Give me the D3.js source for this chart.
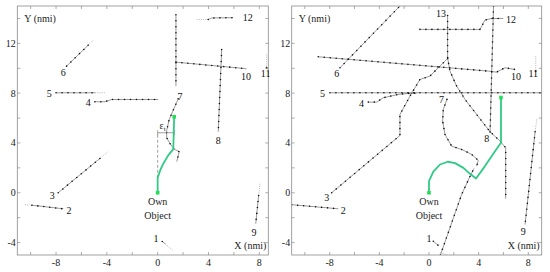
<!DOCTYPE html>
<html>
<head>
<meta charset="utf-8">
<script src="https://cdn.jsdelivr.net/npm/d3@7"></script>
<style>
  body { margin: 0; background: #fff; }
  svg { display: block; font-family: "Liberation Serif", "DejaVu Serif", serif; }
</style>
</head>
<body>
<svg id="chart" width="550" height="272"></svg>
<script>
// axis ticks (nmi)
const xTicks = [-10, -8, -6, -4, -2, 0, 2, 4, 6, 8];
const xTickLabels = [-8, -4, 0, 4, 8];
const yTicks = [-4, -2, 0, 2, 4, 6, 8, 10, 12, 14];
const yTickLabels = [-4, 0, 4, 8, 12];

// left panel: tracked objects (solid part with plots, faint part = older history)
const leftSolid = [
  [[0.36, -3.91], [0.62, -4.12]],
  [[-9.9, -1.0], [-7.43, -1.29]],
  [[-7.83, 0], [-4.54, 2.76]],
  [[-4.94, 7.31], [-4.15, 7.31], [-3.63, 7.49], [0.05, 7.49]],
  [[-8.0, 8.03], [-4.93, 8.03]],
  [[-7.17, 10.17], [-5.46, 11.86]],
  [[1.62, 7.55], [0.91, 5.89], [0.71, 5.0], [0.71, 4.42], [0.97, 3.95], [1.3, 3.5], [1.7, 3.3], [1.5, 2.5]],
  [[5.04, 11.5], [4.77, 4.9]],
  [[7.95, -0.22], [7.72, -2.49]],
  [[1.44, 10.49], [7.0, 9.96]],
  [[3.98, 13.92], [4.25, 14.04], [5.93, 14.06]],
  [[1.44, 14.3], [1.44, 8.56]]
];
const leftFaint = [
  [[0.62, -4.12], [1.18, -4.63]],
  [[-10.45, -0.96], [-9.9, -1.0]],
  [[-4.54, 2.76], [-3.89, 3.32]],
  [[-4.93, 8.03], [-4.15, 8.03]],
  [[-5.46, 11.86], [-5.07, 12.26]],
  [[8.06, 0.72], [7.95, -0.22]],
  [[8.58, 11.1], [8.58, 10.04]],
  [[3.07, 13.92], [3.98, 13.92]]
];
const leftLabels = [
  ["1", -0.13, -3.7], ["2", -6.98, -1.42], ["3", -8.3, -0.2], ["4", -5.46, 7.23],
  ["5", -8.54, 8.0], ["6", -7.43, 9.69], ["7", 1.76, 7.76], ["8", 4.77, 4.2],
  ["9", 7.58, -3.16], ["10", 6.95, 9.37], ["11", 8.5, 9.6], ["12", 7.1, 14.05]
];
const leftOwn = [[0, 0], [0, 1.2], [0.2, 1.8], [0.44, 2.33], [0.83, 3.0], [1.23, 3.5], [1.3, 6.1]];
const epsY = 4.82;
const epsX = 1.31;

// right panel
const rightSolid = [
  [[0.35, -3.9], [0.75, -4.23]],
  [[0.92, -5.0], [2.63, -0.14], [3.3, 1.3], [3.62, 1.95]],
  [[-11.06, -0.96], [-7.3, -1.29]],
  [[-7.84, 0], [-2.34, 4.6], [-2.34, 6.29], [-1.53, 7.76], [-0.73, 9.1], [0.08, 9.37], [0.75, 10.04], [1.56, 10.84]],
  [[-4.89, 7.28], [-4.22, 7.28], [-3.68, 7.63], [-2.47, 7.9], [-1.66, 7.98], [-1.0, 8.0]],
  [[-7.98, 8.03], [9.08, 8.03]],
  [[-7.17, 10.04], [-2.34, 15.0]],
  [[1.45, 7.5], [1.15, 6.69], [1.1, 5.75], [1.29, 4.68], [1.83, 3.74], [2.63, 3.48], [3.44, 3.08], [3.97, 2.6], [3.84, 2.14]],
  [[5.2, 15.0], [4.92, 4.82]],
  [[8.55, 4.9], [7.74, -2.55]],
  [[-8.92, 10.92], [4.78, 9.77], [5.45, 9.69], [6.12, 10.04], [6.93, 9.9]],
  [[-0.73, 13.12], [4.11, 13.12], [4.51, 13.87], [5.05, 14.0], [5.99, 14.0]],
  [[1.5, 14.24], [1.5, 10.84], [1.69, 9.77], [2.23, 8.56], [2.9, 7.5], [3.84, 6.29], [4.92, 4.9], [5.72, 4.15], [6.18, 3.61], [6.18, -0.48]]
];
const rightFaint = [
  [[0.92, -4.8], [1.45, -5.0]],
  [[8.68, 5.89], [8.55, 4.9]],
  [[8.6, 10.97], [8.6, 9.77]]
];
const rightLabels = [
  ["1", 0.0, -3.7], ["2", -6.9, -1.42], ["3", -8.24, -0.35], ["4", -5.44, 7.2],
  ["5", -8.57, 7.95], ["6", -7.44, 9.58], ["7", 1.0, 7.45], ["8", 4.65, 4.36],
  ["9", 7.6, -3.08], ["10", 7.0, 9.3], ["11", 8.4, 9.6], ["12", 6.6, 13.9], ["13", 0.97, 14.4]
];
const rightOwn = [[0, 0], [0, 0.93], [0.35, 1.69], [0.89, 2.27], [1.51, 2.49], [2.1, 2.38], [2.77, 2.0],
  [3.3, 1.52], [3.79, 1.15], [4.51, 2.14], [5.32, 3.34], [5.8, 4.01], [5.8, 7.65]];

const green = "#2fcb86";
const svg = d3.select("#chart");

function drawPanel(px0, px1, xDom, solid, faint, labels, own, withEps) {
  const x = d3.scaleLinear().domain(xDom).range([px0, px1]);
  const y = d3.scaleLinear().domain([-5, 15]).range([255, 6]);
  const g = svg.append("g");
  const line = d3.line().x(d => x(d[0])).y(d => y(d[1]));

  const clipId = "clip" + Math.round(px0);
  g.append("clipPath").attr("id", clipId).append("rect")
    .attr("x", px0).attr("y", 6).attr("width", px1 - px0).attr("height", 249);
  const inner = g.append("g").attr("clip-path", "url(#" + clipId + ")");

  // frame + inward ticks
  g.append("rect").attr("x", px0).attr("y", 6).attr("width", px1 - px0).attr("height", 249)
    .attr("fill", "none").attr("stroke", "#8a8a8a").attr("stroke-width", 0.8);
  const tk = g.append("g").attr("stroke", "#8a8a8a").attr("stroke-width", 0.7);
  xTicks.forEach(v => {
    tk.append("line").attr("x1", x(v)).attr("x2", x(v)).attr("y1", 255).attr("y2", 252);
    tk.append("line").attr("x1", x(v)).attr("x2", x(v)).attr("y1", 6).attr("y2", 9);
  });
  yTicks.forEach(v => {
    tk.append("line").attr("x1", px0).attr("x2", px0 + 3).attr("y1", y(v)).attr("y2", y(v));
    tk.append("line").attr("x1", px1).attr("x2", px1 - 3).attr("y1", y(v)).attr("y2", y(v));
  });
  g.selectAll(".xl").data(xTickLabels).enter().append("text")
    .attr("x", d => x(d)).attr("y", 265.5).attr("text-anchor", "middle")
    .attr("font-size", 10).attr("fill", "#222").text(d => String(d));
  g.selectAll(".yl").data(yTickLabels).enter().append("text")
    .attr("x", px0 - 1.5).attr("y", d => y(d) + 3.5).attr("text-anchor", "end")
    .attr("font-size", 10).attr("fill", "#222").text(d => String(d));

  g.append("text").attr("x", px0 + 7).attr("y", 21.5).attr("font-size", 10).attr("fill", "#222").text("Y (nmi)");
  g.append("text").attr("x", px1 - 2).attr("y", 249).attr("text-anchor", "end")
    .attr("font-size", 10).attr("fill", "#222").text("X (nmi)");

  // faint history
  inner.selectAll(".faint").data(faint).enter().append("path")
    .attr("d", line).attr("fill", "none").attr("stroke", "#9a9a9a")
    .attr("stroke-width", 0.7).attr("stroke-dasharray", "1,1.2");
  faint.forEach(f => {
    if (f[0][0] === f[1][0]) {
      const e = f[f.length - 1];
      inner.append("circle").attr("cx", x(e[0])).attr("cy", y(e[1])).attr("r", 0.9).attr("fill", "#222");
    }
  });

  // tracks with plot dots
  inner.selectAll(".trk").data(solid).enter().append("path")
    .attr("d", line).attr("fill", "none").attr("stroke", "#555").attr("stroke-width", 0.6);
  inner.selectAll(".dots").data(solid).enter().append("path")
    .attr("d", line).attr("fill", "none").attr("stroke", "#111").attr("stroke-width", 1.6)
    .attr("stroke-linecap", "round").attr("stroke-dasharray", "0,6");

  if (withEps) {
    const eg = g.append("g").attr("stroke", "#888").attr("stroke-width", 0.8);
    eg.append("line").attr("x1", x(0)).attr("x2", x(0)).attr("y1", y(1.2)).attr("y2", y(epsY))
      .attr("stroke-dasharray", "3,2");
    eg.append("line").attr("x1", x(0)).attr("x2", x(epsX)).attr("y1", y(epsY)).attr("y2", y(epsY));
    eg.append("line").attr("x1", x(0)).attr("x2", x(0)).attr("y1", y(epsY) - 2.5).attr("y2", y(epsY) + 2.5);
    eg.append("line").attr("x1", x(epsX)).attr("x2", x(epsX)).attr("y1", y(epsY) - 2.5).attr("y2", y(epsY) + 2.5);
    const et = g.append("text").attr("x", x(0.15)).attr("y", y(epsY) - 4).attr("font-size", 10).attr("fill", "#222");
    et.append("tspan").text("ε");
    et.append("tspan").attr("font-size", 7).attr("dy", 2).text("t");
  }

  // own object path
  g.append("path").attr("d", line(own)).attr("fill", "none").attr("stroke", green)
    .attr("stroke-width", 1.8).attr("stroke-linejoin", "round");
  [own[0], own[own.length - 1]].forEach(p => {
    g.append("rect").attr("x", x(p[0]) - 1.8).attr("y", y(p[1]) - 1.8)
      .attr("width", 3.6).attr("height", 3.6).attr("fill", "#22dd55");
  });
  g.append("text").attr("x", x(0)).attr("y", y(0) + 12).attr("text-anchor", "middle")
    .attr("font-size", 10).attr("fill", "#222").text("Own");
  g.append("text").attr("x", x(0)).attr("y", y(0) + 26).attr("text-anchor", "middle")
    .attr("font-size", 10).attr("fill", "#222").text("Object");

  // track numbers
  g.selectAll(".lab").data(labels).enter().append("text")
    .attr("x", d => x(d[1])).attr("y", d => y(d[2]) + 3.5).attr("text-anchor", "middle")
    .attr("font-size", 10).attr("fill", "#111").text(d => d[0]);
}

drawPanel(17.3, 268.3, [-11.05, 8.71], leftSolid, leftFaint, leftLabels, leftOwn, true);
drawPanel(291.7, 541.7, [-11.06, 9.08], rightSolid, rightFaint, rightLabels, rightOwn, false);
</script>
</body>
</html>
